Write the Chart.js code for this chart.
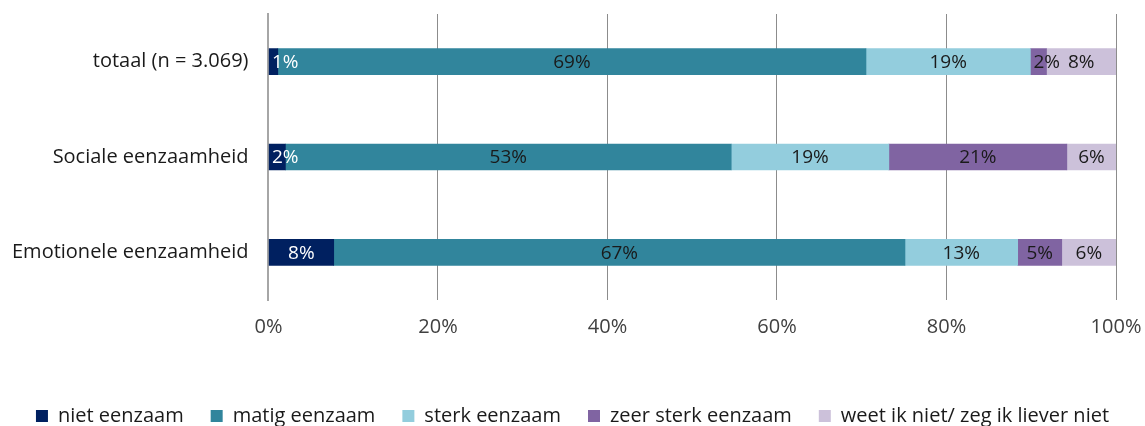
<!DOCTYPE html>
<html>
<head>
<meta charset="utf-8">
<script src="https://cdn.jsdelivr.net/npm/chart.js@4"></script>
<style>
  html, body { margin: 0; padding: 0; background: #fff; }
  #wrap { width: 1145px; height: 426px; }
</style>
</head>
<body>
<div id="wrap"><canvas id="grafiek" width="1145" height="426"></canvas></div>
<script>
// categorieën en reeksen
const categorieen = ['totaal (n = 3.069)', 'Sociale eenzaamheid', 'Emotionele eenzaamheid'];
const reeksNamen = ['niet eenzaam', 'matig eenzaam', 'sterk eenzaam', 'zeer sterk eenzaam', 'weet ik niet/ zeg ik liever niet'];
const nietEenzaam = [1.1, 2.0, 7.7];
const matigEenzaam = [69.4, 52.6, 67.4];
const sterkEenzaam = [19.4, 18.6, 13.3];
const zeerSterkEenzaam = [1.9, 21.0, 5.2];
const weetNiet = [8.2, 5.8, 6.4];
const xTicks = [0, 20, 40, 60, 80, 100];

const kleuren = ['#002060', '#31859c', '#93cddd', '#8064a2', '#ccc1da'];
const labelKleuren = ['#ffffff', '#1a1a1a', '#1a1a1a', '#1a1a1a', '#1a1a1a'];
const reeksen = [nietEenzaam, matigEenzaam, sterkEenzaam, zeerSterkEenzaam, weetNiet];

const FONT = '"Open Sans", sans-serif';

// labels in de balken
const balkLabels = {
  id: 'balkLabels',
  afterDatasetsDraw(chart) {
    const c = chart.ctx;
    c.save();
    c.font = '19px ' + FONT;
    c.textBaseline = 'middle';
    c.textAlign = 'center';
    chart.data.datasets.forEach(function (ds, i) {
      const meta = chart.getDatasetMeta(i);
      meta.data.forEach(function (bar, j) {
        const tekst = Math.round(ds.data[j]) + '%';
        const w = c.measureText(tekst).width;
        let x = (bar.x + bar.base) / 2;
        if (x - w / 2 < bar.base + 3) x = bar.base + 3 + w / 2;
        c.fillStyle = labelKleuren[i];
        c.fillText(tekst, x, bar.y + 1);
      });
    });
    c.restore();
  }
};

// legenda iets lager zetten, zoals in het origineel
const legendaOmlaag = {
  id: 'legendaOmlaag',
  afterLayout(chart) {
    if (chart.legend) {
      chart.legend.top += 10;
      chart.legend.bottom += 10;
    }
  }
};

new Chart(document.getElementById('grafiek'), {
  type: 'bar',
  data: {
    labels: categorieen,
    datasets: reeksen.map(function (d, i) {
      return {
        label: reeksNamen[i],
        data: d,
        backgroundColor: kleuren[i],
        borderWidth: 0,
        barThickness: 26
      };
    })
  },
  options: {
    indexAxis: 'y',
    responsive: false,
    animation: false,
    layout: { padding: { top: 14, right: 0, left: 0, bottom: 0 } },
    plugins: {
      legend: {
        position: 'bottom',
        labels: {
          boxWidth: 12,
          boxHeight: 12,
          padding: 27,
          color: '#1a1a1a',
          font: { family: FONT, size: 20 }
        }
      },
      tooltip: { enabled: false }
    },
    scales: {
      x: {
        stacked: true,
        min: 0,
        max: 100,
        afterBuildTicks: function (axis) {
          axis.ticks = xTicks.map(function (v) { return { value: v }; });
        },
        afterFit: function (axis) {
          axis.height = 69;
          axis.paddingLeft = 0;
          axis.paddingRight = 29;
        },
        ticks: {
          callback: function (v) { return v + '%'; },
          color: '#404040',
          padding: 15,
          font: { family: FONT, size: 20 }
        },
        grid: { color: '#8c8c8c', drawTicks: false },
        border: { display: false }
      },
      y: {
        stacked: true,
        afterFit: function (axis) {
          axis.paddingTop = 0;
          axis.paddingBottom = 0;
          axis.width -= 8;
        },
        ticks: {
          color: '#1a1a1a',
          padding: 20,
          font: { family: FONT, size: 20 }
        },
        grid: { display: false, drawTicks: false },
        border: { display: true, color: '#a6a6a6', width: 2 }
      }
    }
  },
  plugins: [balkLabels, legendaOmlaag]
});
</script>
</body>
</html>
